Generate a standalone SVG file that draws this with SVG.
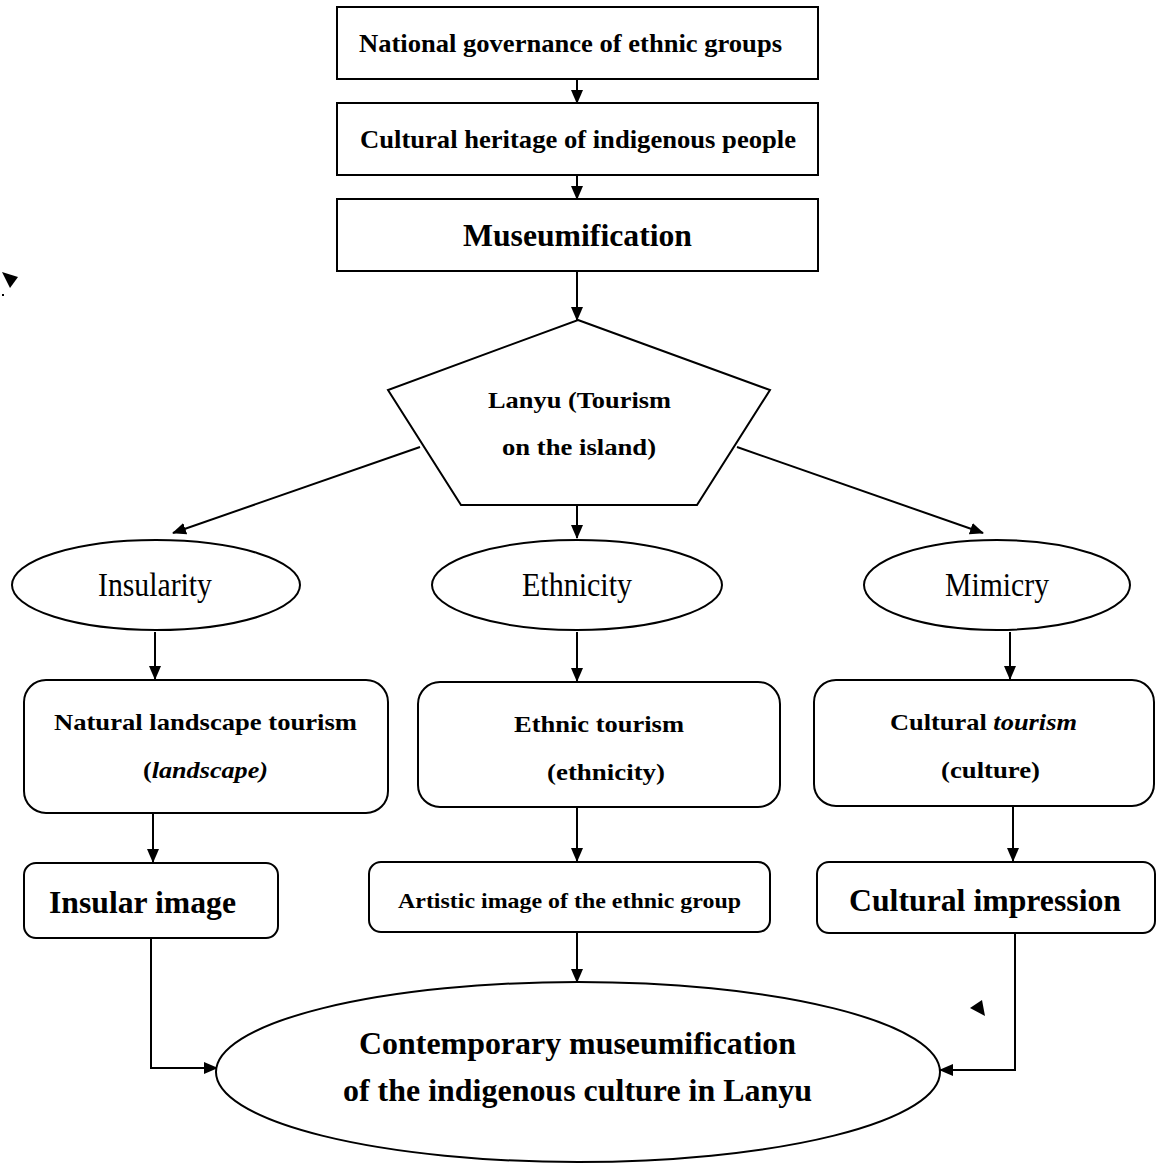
<svg xmlns="http://www.w3.org/2000/svg" width="1158" height="1164" viewBox="0 0 1158 1164">
<style>
.n{fill:#fff;stroke:#000;stroke-width:2}
.b{font-family:"Liberation Serif","Times New Roman",serif;font-weight:bold;fill:#000}
.r{font-family:"Liberation Serif","Times New Roman",serif;fill:#000}
.c{stroke:#000;stroke-width:2;fill:none;marker-end:url(#ah)}
</style>
<defs>
<marker id="ah" markerWidth="14" markerHeight="12" refX="13" refY="6" orient="auto" markerUnits="userSpaceOnUse">
<path d="M0,0 L14,6 L0,12 Z" fill="#000"/>
</marker>
</defs>
<rect width="1158" height="1164" fill="#fff"/>
<g id="connectors">
<line class="c" x1="577" y1="79" x2="577" y2="103"/>
<line class="c" x1="577" y1="175" x2="577" y2="199"/>
<line class="c" x1="577" y1="271" x2="577" y2="320"/>
<line class="c" x1="577" y1="505" x2="577" y2="538"/>
<line class="c" x1="420" y1="447" x2="173" y2="533"/>
<line class="c" x1="737" y1="447" x2="983" y2="533"/>
<line class="c" x1="155" y1="632" x2="155" y2="679"/>
<line class="c" x1="577" y1="632" x2="577" y2="681"/>
<line class="c" x1="1010" y1="632" x2="1010" y2="679"/>
<line class="c" x1="153" y1="813" x2="153" y2="862"/>
<line class="c" x1="577" y1="807" x2="577" y2="861"/>
<line class="c" x1="1013" y1="806" x2="1013" y2="861"/>
<line class="c" x1="577" y1="932" x2="577" y2="982"/>
<polyline class="c" points="151,938 151,1068 217,1068"/>
<polyline class="c" points="1015,933 1015,1070 940,1070"/>
<path d="M2,272 L18,277 L10,288 Z" fill="#000"/>
<rect x="2" y="294" width="2" height="2" fill="#000"/>
<path d="M970,1008 L982,1000 L985,1016 Z" fill="#000"/>
</g>
<g id="n1"><rect class="n" x="337" y="7" width="481" height="72"/><text class="b" x="359" y="52" font-size="25" textLength="423" lengthAdjust="spacingAndGlyphs">National governance of ethnic groups</text></g>
<g id="n2"><rect class="n" x="337" y="103" width="481" height="72"/><text class="b" x="360" y="148" font-size="25" textLength="436" lengthAdjust="spacingAndGlyphs">Cultural heritage of indigenous people</text></g>
<g id="n3"><rect class="n" x="337" y="199" width="481" height="72"/><text class="b" x="463" y="246" font-size="32" textLength="229" lengthAdjust="spacingAndGlyphs">Museumification</text></g>
<g id="n4"><polygon class="n" points="578,320 770,390 697,505 461,505 388,390"/><text class="b" x="488" y="408" font-size="24" textLength="183" lengthAdjust="spacingAndGlyphs">Lanyu (Tourism</text><text class="b" x="502" y="455" font-size="24" textLength="154" lengthAdjust="spacingAndGlyphs">on the island)</text></g>
<g id="n5"><ellipse class="n" cx="156" cy="585" rx="144" ry="45"/><text class="r" x="155" y="596" font-size="34" text-anchor="middle" textLength="114" lengthAdjust="spacingAndGlyphs">Insularity</text></g>
<g id="n6"><ellipse class="n" cx="577" cy="585" rx="145" ry="45"/><text class="r" x="577" y="596" font-size="34" text-anchor="middle" textLength="110" lengthAdjust="spacingAndGlyphs">Ethnicity</text></g>
<g id="n7"><ellipse class="n" cx="997" cy="585" rx="133" ry="45"/><text class="r" x="997" y="596" font-size="34" text-anchor="middle" textLength="104" lengthAdjust="spacingAndGlyphs">Mimicry</text></g>
<g id="n8"><rect class="n" x="24" y="680" width="364" height="133" rx="22"/><text class="b" x="54" y="730" font-size="24" textLength="303" lengthAdjust="spacingAndGlyphs">Natural landscape tourism</text><text class="b" x="143" y="778" font-size="24" textLength="125" lengthAdjust="spacingAndGlyphs">(<tspan font-style="italic">landscape)</tspan></text></g>
<g id="n9"><rect class="n" x="418" y="682" width="362" height="125" rx="22"/><text class="b" x="514" y="732" font-size="24" textLength="170" lengthAdjust="spacingAndGlyphs">Ethnic tourism</text><text class="b" x="547" y="780" font-size="24" textLength="118" lengthAdjust="spacingAndGlyphs">(ethnicity)</text></g>
<g id="n10"><rect class="n" x="814" y="680" width="340" height="126" rx="22"/><text class="b" x="890" y="730" font-size="24" textLength="187" lengthAdjust="spacingAndGlyphs">Cultural <tspan font-style="italic">tourism</tspan></text><text class="b" x="941" y="778" font-size="24" textLength="99" lengthAdjust="spacingAndGlyphs">(culture)</text></g>
<g id="n11"><rect class="n" x="24" y="863" width="254" height="75" rx="12"/><text class="b" x="49" y="913" font-size="32" textLength="187" lengthAdjust="spacingAndGlyphs">Insular image</text></g>
<g id="n12"><rect class="n" x="369" y="862" width="401" height="70" rx="12"/><text class="b" x="398" y="908" font-size="21" textLength="343" lengthAdjust="spacingAndGlyphs">Artistic image of the ethnic group</text></g>
<g id="n13"><rect class="n" x="817" y="862" width="338" height="71" rx="12"/><text class="b" x="849" y="911" font-size="32" textLength="272" lengthAdjust="spacingAndGlyphs">Cultural impression</text></g>
<g id="n14"><ellipse class="n" cx="578" cy="1072" rx="362" ry="90"/><text class="b" x="359" y="1054" font-size="32" textLength="437" lengthAdjust="spacingAndGlyphs">Contemporary museumification</text><text class="b" x="343" y="1101" font-size="32" textLength="469" lengthAdjust="spacingAndGlyphs">of the indigenous culture in Lanyu</text></g>
</svg>
